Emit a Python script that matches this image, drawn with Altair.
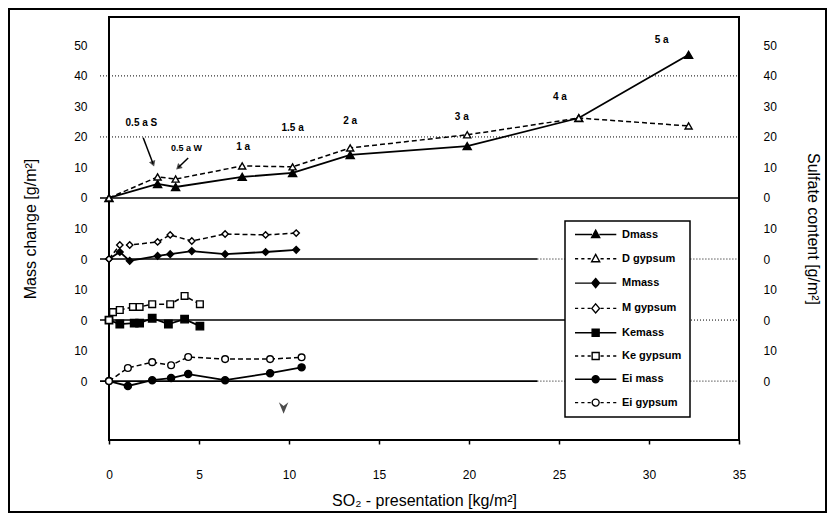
import altair as alt
import pandas as pd

# ---------------- data ----------------
series_names = ["Dmass", "D gypsum", "Mmass", "M gypsum",
                "Kemass", "Ke gypsum", "Ei mass", "Ei gypsum"]

d_x = [0, 2.7, 3.7, 7.4, 10.2, 13.4, 19.9, 26.1, 32.2]
d_mass = [0, 4.6, 3.6, 6.9, 8.2, 14.1, 17.0, 26.2, 46.9]
d_gypsum = [0, 6.9, 6.2, 10.5, 10.2, 16.4, 20.7, 26.2, 23.6]

m_x = [0, 0.6, 1.15, 2.7, 3.4, 4.6, 6.45, 8.7, 10.4]
m_mass = [0, 2.3, -0.6, 1.0, 1.6, 2.6, 1.6, 2.3, 3.0]
m_gypsum = [0, 4.6, 4.6, 5.6, 7.9, 5.9, 8.2, 7.9, 8.5]

ke_mass_x = [0, 0.6, 1.4, 1.7, 2.4, 3.3, 4.2, 5.05]
ke_mass = [0, -1.3, -1.0, -1.0, 0.6, -1.3, 0.3, -2.0]
ke_gyp_x = [0, 0.22, 0.6, 1.33, 1.7, 2.4, 3.4, 4.2, 5.05]
ke_gypsum = [0, 2.6, 3.3, 4.3, 4.3, 5.2, 5.2, 7.9, 5.2]

ei_x = [0, 1.05, 2.4, 3.45, 4.4, 6.45, 8.95, 10.7]
ei_mass = [0, -1.6, 0.3, 1.0, 2.3, 0.3, 2.6, 4.5]
ei_gypsum = [0, 4.3, 6.2, 5.2, 7.9, 7.2, 7.2, 7.8]

# vertical offset of each stacked panel on the common y scale
panel_offsets = {"D": 0, "M": -20, "Ke": -40, "Ei": -60}

# exposure-time annotations
year_labels = ["0.5 a S", "0.5 a W", "1 a", "1.5 a", "2 a", "3 a", "4 a", "5 a"]
year_x = [1.8, 4.3, 7.45, 10.2, 13.4, 19.6, 25.05, 30.7]
year_y = [24.6, 16.3, 16.6, 22.9, 25.3, 26.6, 33.1, 51.8]

# arrows pointing from the 0.5 a labels
arrow_x = [1.9, 4.4]
arrow_y = [19.7, 13.1]
arrow_x2 = [2.45, 3.85]
arrow_y2 = [11.2, 10.0]
arrow_angle = [160, 227]

# small arrowhead marker below the Ei panel
pointer_x = [9.7]
pointer_y = [-68.8]

# reference lines
solid_y = [0, -20, -40, -60]
solid_x = [-0.5, -0.5, -0.5, -0.5]
solid_x2 = [35, 23.8, 25.5, 23.8]
dotted_y = [40, 20, -20, -40, -60]
dotted_x = [-0.5, -0.5, 23.8, 25.5, 23.8]
dotted_x2 = [35, 35, 35, 35, 35]

x_ticks = [0, 5, 10, 15, 20, 25, 30, 35]
y_ticks = [-60, -50, -40, -30, -20, -10, 0, 10, 20, 30, 40, 50]

# ---------------- tables ----------------
series_def = [
    ("Dmass", "D", "mass", d_x, d_mass),
    ("D gypsum", "D", "gypsum", d_x, d_gypsum),
    ("Mmass", "M", "mass", m_x, m_mass),
    ("M gypsum", "M", "gypsum", m_x, m_gypsum),
    ("Kemass", "Ke", "mass", ke_mass_x, ke_mass),
    ("Ke gypsum", "Ke", "gypsum", ke_gyp_x, ke_gypsum),
    ("Ei mass", "Ei", "mass", ei_x, ei_mass),
    ("Ei gypsum", "Ei", "gypsum", ei_x, ei_gypsum),
]
rows = []
for name, panel, kind, xs, vs in series_def:
    for i, (xv, vv) in enumerate(zip(xs, vs)):
        rows.append({"series": name, "kind": kind, "x": xv, "value": vv,
                     "y": vv + panel_offsets[panel], "i": i})
df = pd.DataFrame(rows)

solid_df = pd.DataFrame({"x": solid_x, "x2": solid_x2, "y": solid_y})
dotted_df = pd.DataFrame({"x": dotted_x, "x2": dotted_x2, "y": dotted_y})
label_df = pd.DataFrame({"x": year_x, "y": year_y, "text": year_labels})
arrow_df = pd.DataFrame({"x": arrow_x, "y": arrow_y, "x2": arrow_x2,
                         "y2": arrow_y2, "angle": arrow_angle})
pointer_df = pd.DataFrame({"x": pointer_x, "y": pointer_y})
legend_df = pd.DataFrame({"series": series_names})

# ---------------- styling ----------------
FONT = "Liberation Sans"
W, H = 630, 423
xscale = alt.Scale(domain=[0, 35], nice=False, zero=False)
yscale = alt.Scale(domain=[-79.3, 59.3], nice=False, zero=False)

xaxis = alt.Axis(values=x_ticks, title="SO₂  - presentation [kg/m²]",
                 domain=False, grid=False, ticks=True, tickSize=4, tickWidth=1.5,
                 tickColor="black", labelPadding=25, labelFlush=False,
                 labelFont=FONT, labelFontSize=12, labelColor="black",
                 titleFont=FONT, titleFontSize=16, titleFontWeight="normal",
                 titleColor="black", titlePadding=12)
lab_expr = "datum.value >= 0 ? datum.label : (datum.value % 20 == 0 ? '0' : '10')"
yaxis_left = alt.Axis(orient="left", values=y_ticks, labelExpr=lab_expr,
                      domain=False, ticks=False, grid=False, labelPadding=22,
                      labelFont=FONT, labelFontSize=12, labelColor="black",
                      title="Mass change [g/m²]", titleFont=FONT, titleFontSize=16,
                      titleFontWeight="normal", titleColor="black", titlePadding=35)
yaxis_right = alt.Axis(orient="right", values=y_ticks, labelExpr=lab_expr,
                       domain=False, ticks=False, grid=False, labelPadding=24,
                       labelFont=FONT, labelFontSize=12, labelColor="black",
                       title="Sulfate content [g/m²]", titleFont=FONT, titleFontSize=16,
                       titleFontWeight="normal", titleColor="black", titlePadding=28)

X = alt.X("x:Q", scale=xscale, axis=xaxis)
Ynone = alt.Y("y:Q", scale=yscale, axis=None)

base = alt.Chart(df)

solid_rules = alt.Chart(solid_df).mark_rule(color="black", strokeWidth=1.6).encode(
    x=X, x2="x2", y=alt.Y("y:Q", scale=yscale, axis=yaxis_left))
dotted_rules = alt.Chart(dotted_df).mark_rule(color="black", strokeWidth=1,
                                              strokeDash=[1, 2]).encode(
    x=X, x2="x2", y=alt.Y("y:Q", scale=yscale, axis=yaxis_right))

mass_lines = base.transform_filter("datum.kind == 'mass'").mark_line(
    color="black", strokeWidth=1.8).encode(
    x=X, y=Ynone, detail="series:N", order="i:Q")
gyp_lines = base.transform_filter("datum.kind == 'gypsum'").mark_line(
    color="black", strokeWidth=1.5, strokeDash=[5, 3]).encode(
    x=X, y=Ynone, detail="series:N", order="i:Q")

marker_style = {
    "Dmass": ("triangle-up", "black", 65),
    "D gypsum": ("triangle-up", "white", 50),
    "Mmass": ("diamond", "black", 45),
    "M gypsum": ("diamond", "white", 40),
    "Kemass": ("square", "black", 55),
    "Ke gypsum": ("square", "white", 45),
    "Ei mass": ("circle", "black", 50),
    "Ei gypsum": ("circle", "white", 45),
}
point_layers = []
for name in series_names:
    shp, fill, size = marker_style[name]
    point_layers.append(
        base.transform_filter(alt.datum.series == name).mark_point(
            shape=shp, filled=True, fill=fill, stroke="black", strokeWidth=1.4,
            size=size, opacity=1).encode(x=X, y=Ynone))

labels_big = alt.Chart(label_df).transform_filter("datum.text != '0.5 a W'").mark_text(
    font=FONT, fontSize=10, fontWeight="bold", color="black").encode(
    x=X, y=Ynone, text="text:N")
labels_small = alt.Chart(label_df).transform_filter("datum.text == '0.5 a W'").mark_text(
    font=FONT, fontSize=9, fontWeight="bold", color="black").encode(
    x=X, y=Ynone, text="text:N")

arrow_lines = alt.Chart(arrow_df).mark_rule(color="black", strokeWidth=1.5).encode(
    x=X, y=Ynone, x2="x2", y2="y2")
arrow_heads = alt.Chart(arrow_df).mark_point(
    shape="triangle-up", filled=True, color="black", size=45).encode(
    x=alt.X("x2:Q", scale=xscale, axis=xaxis), y=alt.Y("y2:Q", scale=yscale, axis=None),
    angle=alt.Angle("angle:Q", scale=None))

pointer = alt.Chart(pointer_df).mark_point(
    shape="M-1,-1.2L0,1.2L1,-1.2L0,-0.4Z", filled=True, color="black", size=90).encode(
    x=X, y=Ynone)


# legend glyphs: line sample + marker
def glyph(marker, dashed):
    cx = 4.9
    if dashed:
        segs = [(-1, -0.1), (0.8, 1.7), (2.6, 3.5), (6.3, 7.2), (8.1, 9.0), (9.9, 10.8)]
    else:
        segs = [(-1, cx - 1.05), (cx + 1.05, 10.8)]
    p = "".join(f"M{a},0H{b}" for a, b in segs)
    if marker == "tri":
        p += f"M{cx},-1.25L{cx + 1.15},0.85L{cx - 1.15},0.85Z"
    elif marker == "dia":
        p += f"M{cx},-1.3L{cx + 1.1},0L{cx},1.3L{cx - 1.1},0Z"
    elif marker == "sq":
        p += f"M{cx - 1},-1H{cx + 1}V1H{cx - 1}Z"
    else:
        p += f"M{cx + 1},0A1,1,0,1,1,{cx - 1},0A1,1,0,1,1,{cx + 1},0Z"
    return p


glyphs = [glyph("tri", False), glyph("tri", True), glyph("dia", False), glyph("dia", True),
          glyph("sq", False), glyph("sq", True), glyph("cir", False), glyph("cir", True)]
fills = ["black", "white"] * 4
strokes = ["black"] * 8

leg = alt.Legend(title=None, orient="none", legendX=456, legendY=204,
                 symbolSize=49, symbolStrokeWidth=1.4, symbolStrokeColor="black",
                 symbolOpacity=1, labelFont=FONT, labelFontSize=11,
                 labelFontWeight="bold", labelColor="black", labelOffset=38,
                 rowPadding=10.3, padding=8, strokeColor="black", fillColor="white")
legend_layer = alt.Chart(legend_df).mark_point(
    opacity=0, filled=True, strokeWidth=1.4, size=49).encode(
    shape=alt.Shape("series:N", scale=alt.Scale(domain=series_names, range=glyphs), legend=leg),
    fill=alt.Fill("series:N", scale=alt.Scale(domain=series_names, range=fills), legend=leg),
    stroke=alt.Stroke("series:N", scale=alt.Scale(domain=series_names, range=strokes), legend=leg))

frame = alt.Chart(alt.Data(values=[{}])).mark_rect(
    filled=False, stroke="black", strokeWidth=2).encode(
    x=alt.value(-100), x2=alt.value(W + 87), y=alt.value(-8), y2=alt.value(H + 72))

chart = alt.layer(
    solid_rules, dotted_rules, mass_lines, gyp_lines, *point_layers,
    labels_big, labels_small, arrow_lines, arrow_heads, pointer, legend_layer, frame
).resolve_axis(y="independent").properties(
    width=W, height=H,
    autosize=alt.AutoSizeParams(type="none"),
    padding={"left": 101, "top": 9, "right": 88, "bottom": 74},
    background="white",
).configure_view(stroke="black", strokeWidth=2).configure_legend(strokeWidth=1.5)

chart.save("out.html", embed_options={"renderer": "svg", "actions": False})
